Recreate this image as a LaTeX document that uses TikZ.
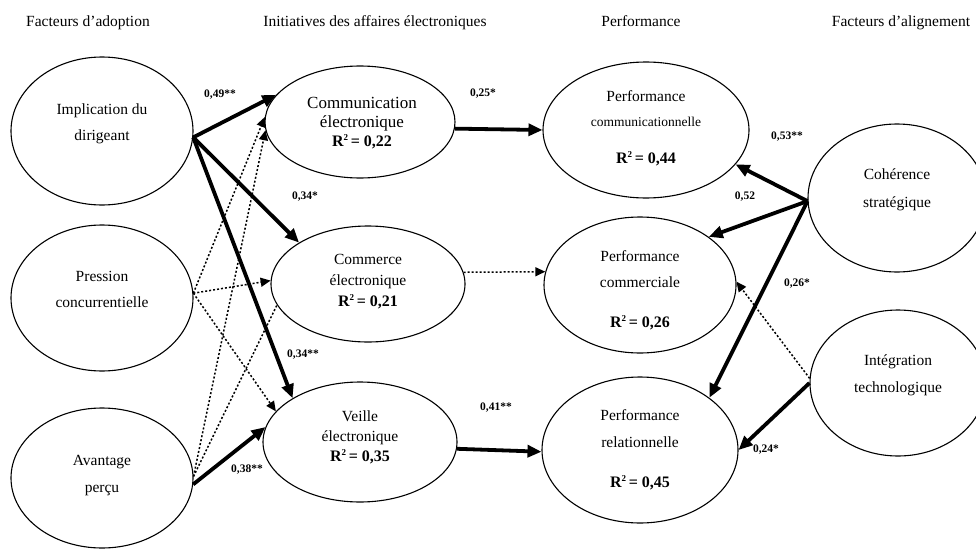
\documentclass[tikz,border=0pt]{standalone}
\usepackage{fontspec}
\setmainfont{Liberation Serif}
\usetikzlibrary{arrows.meta,shapes.geometric}
\newcommand{\rsqtxt}[1]{R\raisebox{0.85ex}{\fontsize{9}{9}\selectfont 2}\,= #1}

\begin{document}
\begin{tikzpicture}[x=1pt,y=-1pt,
 ell/.style={draw, ellipse, line width=1.1pt, inner sep=0pt},
 hdr/.style={font=\fontsize{15.5}{18}\selectfont, text height=10.5pt, text depth=1.5pt, inner sep=0pt},
 txt/.style={font=\fontsize{15.5}{18}\selectfont, text height=10.5pt, text depth=1.5pt, inner sep=0pt},
 bigtxt/.style={font=\fontsize{17}{20}\selectfont, text height=11.5pt, text depth=1.5pt, inner sep=0pt},
 smltxt/.style={font=\fontsize{13.5}{16}\selectfont, text height=9.5pt, text depth=1.5pt, inner sep=0pt},
 rsq/.style={font=\bfseries\fontsize{16}{19}\selectfont, text height=11pt, text depth=1.5pt, inner sep=0pt},
 lbl/.style={font=\bfseries\fontsize{11.5}{13}\selectfont, inner sep=0pt},
 strong/.style={line width=3.8pt, -{Triangle[length=14pt,width=12pt]}},
 weak/.style={line width=1.5pt, dash pattern=on 2pt off 2pt, -{Triangle[length=10pt,width=9pt]}},
 weakline/.style={line width=1.5pt, dash pattern=on 2pt off 2pt},
]
\useasboundingbox (0,0) rectangle (976,551);

% headers
\node[hdr] (h1) at (88,22) {Facteurs d’adoption};
\node[hdr] (h2) at (375,22) {Initiatives des affaires électroniques};
\node[hdr] (h3) at (641,22) {Performance};
\node[hdr] (h4) at (901,22) {Facteurs d’alignement};

% ellipses
\node[ell, minimum width=182pt, minimum height=148pt] (imp) at (102,131) {};
\node[ell, minimum width=182pt, minimum height=146pt] (pre) at (102,298) {};
\node[ell, minimum width=182pt, minimum height=140pt] (ava) at (102,478) {};
\node[ell, minimum width=190pt, minimum height=112pt] (com) at (360,122) {};
\node[ell, minimum width=194pt, minimum height=116pt] (cmr) at (368,284) {};
\node[ell, minimum width=194pt, minimum height=120pt] (vei) at (360,442) {};
\node[ell, minimum width=206pt, minimum height=136pt] (pcm) at (646,130) {};
\node[ell, minimum width=192pt, minimum height=136pt] (pco) at (640,285) {};
\node[ell, minimum width=196pt, minimum height=146pt] (prl) at (640,450) {};
\node[ell, minimum width=178pt, minimum height=148pt] (coh) at (897,198) {};
\node[ell, minimum width=176pt, minimum height=146pt] (itg) at (898,383) {};

% texts in ellipses
\node[txt] (imp1) at (102,110) {Implication du};
\node[txt] (imp2) at (102,136) {dirigeant};
\node[txt] (pre1) at (102,277) {Pression};
\node[txt] (pre2) at (102,303) {concurrentielle};
\node[txt] (ava1) at (102,461) {Avantage};
\node[txt] (ava2) at (102,488) {perçu};

\node[bigtxt] (com1) at (362,103) {Communication};
\node[bigtxt] (com2) at (362,122) {électronique};
\node[rsq] (com3) at (362,142) {\rsqtxt{0,22}};
\node[txt] (cmr1) at (368,260) {Commerce};
\node[txt] (cmr2) at (368,281) {électronique};
\node[rsq] (cmr3) at (368,302) {\rsqtxt{0,21}};
\node[txt] (vei1) at (360,417) {Veille};
\node[txt] (vei2) at (360,437) {électronique};
\node[rsq] (vei3) at (360,457) {\rsqtxt{0,35}};

\node[txt] (pcm1) at (646,97) {Performance};
\node[smltxt] (pcm2) at (646,122) {communicationnelle};
\node[rsq] (pcm3) at (646,159) {\rsqtxt{0,44}};
\node[txt] (pco1) at (640,257) {Performance};
\node[txt] (pco2) at (640,283) {commerciale};
\node[rsq] (pco3) at (640,323) {\rsqtxt{0,26}};
\node[txt] (prl1) at (640,416) {Performance};
\node[txt] (prl2) at (640,443) {relationnelle};
\node[rsq] (prl3) at (640,483) {\rsqtxt{0,45}};

\node[txt] (coh1) at (897,175) {Cohérence};
\node[txt] (coh2) at (897,203) {stratégique};
\node[txt] (itg1) at (898,361) {Intégration};
\node[txt] (itg2) at (898,388) {technologique};

% dotted (non significant) paths
\draw[weak] (pre.3) -- (com.177);
\draw[weak] (pre.3) -- (cmr.178);
\draw[weak] (pre.3) -- (vei.160);
\draw[weak] (ava.1) -- (com.185);
\draw[weakline] (ava.1) -- (cmr.193);
\draw[weak] (cmr.7) -- (pco.172);
\draw[weak] (itg.177) -- (pco.2);

% strong paths
\draw[strong] (imp.-4) -- (com.162);
\draw[strong] (imp.-4) -- (cmr.149);
\draw[strong] (imp.-4) -- (vei.147);
\draw[strong] (ava.-4) -- (vei.171);
\draw[strong] (com.-4) -- (pcm.180);
\draw[strong] (vei.-4) -- (prl.181);
\draw[strong] (coh.182) -- (pcm.-21);
\draw[strong] (coh.182) -- (pco.35);
\draw[strong] (coh.182) -- (prl.37);
\draw[strong] (itg.180) -- (prl.0);

% coefficients
\node[lbl] (l1) at (220,95) {0,49**};
\node[lbl] (l2) at (483,94) {0,25*};
\node[lbl] (l3) at (305,197) {0,34*};
\node[lbl] (l4) at (303,355) {0,34**};
\node[lbl] (l5) at (247,470) {0,38**};
\node[lbl] (l6) at (496,408) {0,41**};
\node[lbl] (l7) at (787,137) {0,53**};
\node[lbl] (l8) at (745,197) {0,52};
\node[lbl] (l9) at (797,284) {0,26*};
\node[lbl] (l10) at (766,450) {0,24*};
\end{tikzpicture}
\end{document}
